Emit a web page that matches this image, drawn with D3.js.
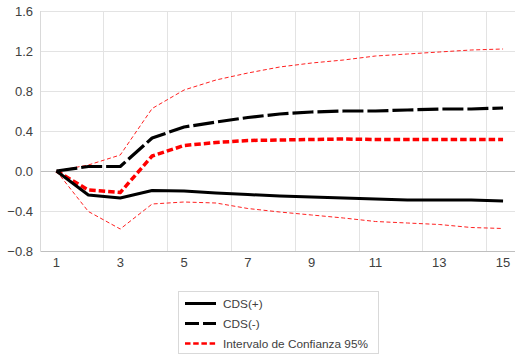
<!DOCTYPE html>
<html lang="es">
<head>
<meta charset="utf-8">
<script src="https://cdn.jsdelivr.net/npm/d3@7"></script>
<style>
  body { margin: 0; background: #fff; }
  text { font-family: "Liberation Sans", Arial, sans-serif; fill: #404040; }
</style>
</head>
<body>
<script>
// periods (categories)
var periods = d3.range(1, 16);
var xTicks = [1, 3, 5, 7, 9, 11, 13, 15];
var yTicks = [-0.8, -0.4, 0.0, 0.4, 0.8, 1.2, 1.6];

// series
var cdsPos   = [0, -0.24, -0.27, -0.195, -0.20, -0.22, -0.235, -0.25, -0.26, -0.27, -0.28, -0.29, -0.29, -0.29, -0.30];
var cdsNeg   = [0, 0.045, 0.045, 0.33, 0.44, 0.49, 0.535, 0.57, 0.59, 0.60, 0.60, 0.61, 0.62, 0.62, 0.63];
var ciMid    = [0, -0.19, -0.215, 0.15, 0.255, 0.285, 0.305, 0.31, 0.315, 0.32, 0.315, 0.315, 0.315, 0.315, 0.315];
var ciUpper  = [0, 0.06, 0.16, 0.625, 0.81, 0.91, 0.98, 1.04, 1.08, 1.11, 1.15, 1.17, 1.19, 1.21, 1.22];
var ciLower  = [0, -0.405, -0.58, -0.33, -0.31, -0.32, -0.375, -0.41, -0.44, -0.47, -0.505, -0.52, -0.535, -0.565, -0.575];

var legendLabels = ["CDS(+)", "CDS(-)", "Intervalo de Confianza 95%"];

var w = 515, h = 356;
// plot area edges (note: "top" is reserved on window, so use other names)
var plotL = 40.5, plotR = 519, plotT = 11, plotB = 251;

var svg = d3.select("body").append("svg")
  .attr("width", w).attr("height", h);

var x = d3.scaleBand().domain(periods).range([plotL, plotR]).padding(0);
var y = d3.scaleLinear().domain([-0.8, 1.6]).range([plotB, plotT]);
var cx = function(p) { return x(p) + x.bandwidth() / 2; };

// horizontal gridlines
svg.append("g").selectAll("line")
  .data(yTicks)
  .enter().append("line")
  .attr("x1", plotL).attr("x2", plotR)
  .attr("y1", function(d) { return Math.round(y(d)) + 0.5; })
  .attr("y2", function(d) { return Math.round(y(d)) + 0.5; })
  .attr("stroke", function(d) { return (d === 0 || d === -0.8) ? "#bfbfbf" : "#e3e3e3"; })
  .attr("stroke-width", 1);

// vertical gridlines on category boundaries
svg.append("g").selectAll("line")
  .data([1, 3, 5, 7, 9, 11, 13, 15])
  .enter().append("line")
  .attr("x1", function(d) { return Math.round(x(d)) - 0.5; })
  .attr("x2", function(d) { return Math.round(x(d)) - 0.5; })
  .attr("y1", plotT).attr("y2", plotB)
  .attr("stroke", function(d) { return d === 1 ? "#d9d9d9" : "#e3e3e3"; })
  .attr("stroke-width", 1);

// y axis labels
var yAxis = d3.axisLeft(y).tickValues(yTicks).tickSize(0).tickPadding(0)
  .tickFormat(d3.format(".1f"));
var gy = svg.append("g").attr("transform", "translate(33,0)").call(yAxis);
gy.select(".domain").remove();
gy.selectAll("text").style("font-size", "13px").attr("fill", "#404040")
  .style("font-family", "Liberation Sans, Arial, sans-serif");

// x axis labels
var xAxis = d3.axisBottom(x).tickValues(xTicks).tickSize(0).tickPadding(0);
var gx = svg.append("g").attr("transform", "translate(0,258)").call(xAxis);
gx.select(".domain").remove();
gx.selectAll("text").style("font-size", "13px").attr("fill", "#404040")
  .style("font-family", "Liberation Sans, Arial, sans-serif");

var line = d3.line()
  .x(function(d, i) { return cx(periods[i]); })
  .y(function(d) { return y(d); });

var series = [
  { data: ciUpper, color: "#ff2020", width: 1, dash: "4,2.5" },
  { data: ciLower, color: "#ff2020", width: 1, dash: "4,2.5" },
  { data: ciMid,   color: "#ff0000", width: 3.5, dash: "6.5,3" },
  { data: cdsNeg,  color: "#000000", width: 3.2, dash: "21,4" },
  { data: cdsPos,  color: "#000000", width: 3,   dash: null }
];

svg.append("g").selectAll("path")
  .data(series)
  .enter().append("path")
  .attr("d", function(d) { return line(d.data); })
  .attr("fill", "none")
  .attr("stroke", function(d) { return d.color; })
  .attr("stroke-width", function(d) { return d.width; })
  .attr("stroke-dasharray", function(d) { return d.dash; })
  .attr("stroke-linejoin", "round");

// legend
var legend = svg.append("g");
legend.append("rect")
  .attr("x", 178.5).attr("y", 291.5)
  .attr("width", 200).attr("height", 62)
  .attr("fill", "#fff").attr("stroke", "#d9d9d9");

var legendItems = [
  { label: legendLabels[0], color: "#000", width: 3, dash: null },
  { label: legendLabels[1], color: "#000", width: 3, dash: "14,4" },
  { label: legendLabels[2], color: "#ff0000", width: 2.5, dash: "5.5,2.7" }
];
var ly = d3.scalePoint().domain(legendLabels).range([303.5, 343.5]);

var li = legend.selectAll("g.item")
  .data(legendItems)
  .enter().append("g").attr("class", "item");
li.append("line")
  .attr("x1", 185).attr("x2", 216)
  .attr("y1", function(d) { return ly(d.label); })
  .attr("y2", function(d) { return ly(d.label); })
  .attr("stroke", function(d) { return d.color; })
  .attr("stroke-width", function(d) { return d.width; })
  .attr("stroke-dasharray", function(d) { return d.dash; });
li.append("text")
  .attr("x", 223)
  .attr("y", function(d) { return ly(d.label) + 4; })
  .style("font-size", "11.8px")
  .text(function(d) { return d.label; });
</script>
</body>
</html>
